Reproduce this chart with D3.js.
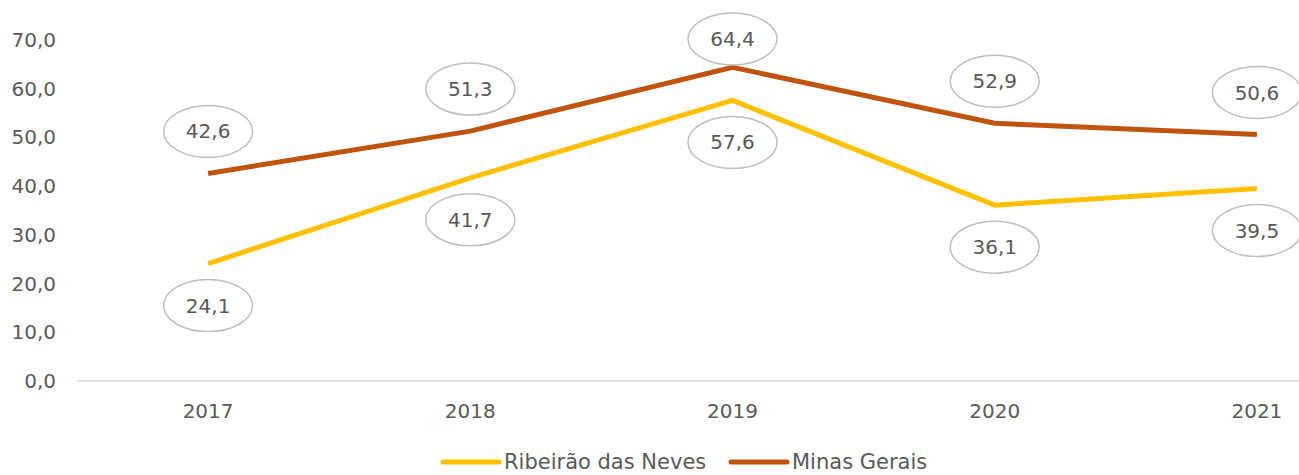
<!DOCTYPE html>
<html>
<head>
<meta charset="utf-8">
<script src="https://cdn.jsdelivr.net/npm/d3@7"></script>
<style>
  body { margin: 0; background: #fff; }
  svg text { font-family: 'DejaVu Sans', sans-serif; fill: #595959; }
</style>
</head>
<body>
<svg class="chart" width="1299" height="475"></svg>
<script>
// data
const years = ['2017', '2018', '2019', '2020', '2021']
const ribeirao = [24.1, 41.7, 57.6, 36.1, 39.5]
const minas = [42.6, 51.3, 64.4, 52.9, 50.6]
const yTicks = [0, 10, 20, 30, 40, 50, 60, 70]

const series = [
  { name: 'Ribeirão das Neves', values: ribeirao, color: '#FFC000', side: 1 },
  { name: 'Minas Gerais', values: minas, color: '#C0540F', side: -1 },
]

const svg = d3.select('.chart')

const fmt = v => d3.format('.1f')(v).replace('.', ',')

const xScale = d3.scalePoint()
  .domain(years)
  .range([77, 1388])
  .padding(0.5)

const yScale = d3.scaleLinear()
  .domain([0, 70])
  .range([381, 40])

// x axis line
svg.append('line')
  .attr('x1', 77)
  .attr('x2', 1388)
  .attr('y1', yScale(0))
  .attr('y2', yScale(0))
  .attr('stroke', '#D9D9D9')
  .attr('stroke-width', 1.5)

// y tick labels
svg.append('g')
  .selectAll('text')
  .data(yTicks)
  .enter()
  .append('text')
  .attr('x', 56)
  .attr('y', d => yScale(d))
  .attr('dy', '0.35em')
  .attr('text-anchor', 'end')
  .attr('font-size', 20)
  .text(d => fmt(d))

// x tick labels
svg.append('g')
  .selectAll('text')
  .data(years)
  .enter()
  .append('text')
  .attr('x', d => xScale(d))
  .attr('y', 411)
  .attr('dy', '0.35em')
  .attr('text-anchor', 'middle')
  .attr('font-size', 20)
  .text(d => d)

const line = d3.line()
  .x((d, i) => xScale(years[i]))
  .y(d => yScale(d))

series.forEach(s => {
  svg.append('path')
    .datum(s.values)
    .attr('fill', 'none')
    .attr('stroke', s.color)
    .attr('stroke-width', 5)
    .attr('stroke-linejoin', 'miter')
    .attr('d', line)
})

// data labels in ellipses
series.forEach(s => {
  const g = svg.append('g')
    .selectAll('g')
    .data(s.values)
    .enter()
    .append('g')
    .attr('transform', (d, i) => {
      const cy = Math.max(39, yScale(d) + s.side * 42)
      return `translate(${xScale(years[i])}, ${cy})`
    })
  g.append('ellipse')
    .attr('rx', 44.5)
    .attr('ry', 26)
    .attr('fill', '#fff')
    .attr('stroke', '#BFBFBF')
    .attr('stroke-width', 1.5)
  g.append('text')
    .attr('text-anchor', 'middle')
    .attr('dy', '0.35em')
    .attr('font-size', 20)
    .text(d => fmt(d))
})

// legend
const legendItems = [
  { name: series[0].name, color: series[0].color, x: 443 },
  { name: series[1].name, color: series[1].color, x: 731 },
]
const leg = svg.append('g')
  .selectAll('g')
  .data(legendItems)
  .enter()
  .append('g')
  .attr('transform', d => `translate(${d.x}, 462)`)
leg.append('line')
  .attr('x1', 0)
  .attr('x2', 56)
  .attr('stroke', d => d.color)
  .attr('stroke-width', 5)
  .attr('stroke-linecap', 'round')
leg.append('text')
  .attr('x', 61)
  .attr('dy', '0.35em')
  .attr('font-size', 21)
  .text(d => d.name)
</script>
</body>
</html>
